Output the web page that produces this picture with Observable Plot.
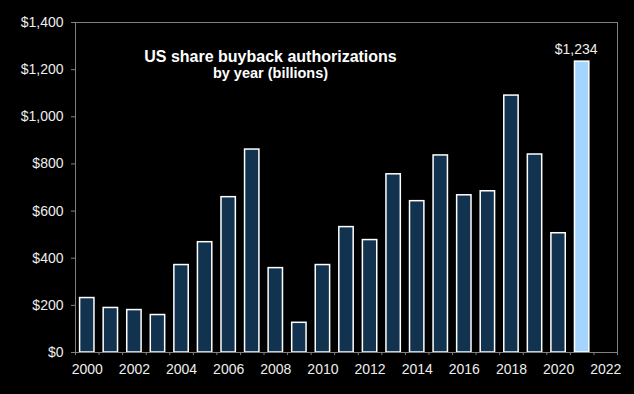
<!DOCTYPE html>
<html>
<head>
<meta charset="utf-8">
<script src="https://cdn.jsdelivr.net/npm/d3@7"></script>
<script src="https://cdn.jsdelivr.net/npm/@observablehq/plot@0.6"></script>
<style>
  html, body { margin: 0; padding: 0; background: #000; }
</style>
</head>
<body>
<div id="chart"></div>
<script>
const years = [2000, 2001, 2002, 2003, 2004, 2005, 2006, 2007, 2008, 2009, 2010,
               2011, 2012, 2013, 2014, 2015, 2016, 2017, 2018, 2019, 2020, 2021];
const values = [231, 189, 180, 159, 371, 468, 659, 861, 358, 126, 371,
                532, 477, 756, 642, 836, 667, 684, 1090, 840, 506, 1234];
const highlightYear = 2021;
const xLabelYears = [2000, 2002, 2004, 2006, 2008, 2010, 2012, 2014, 2016, 2018, 2020, 2022];
const xBoundaryYears = [2000, 2001, 2002, 2003, 2004, 2005, 2006, 2007, 2008, 2009, 2010, 2011,
                        2012, 2013, 2014, 2015, 2016, 2017, 2018, 2019, 2020, 2021, 2022, 2023];
const yTicks = [0, 200, 400, 600, 800, 1000, 1200, 1400];
const titleLines = ["US share buyback authorizations", "by year (billions)"];

const data = years.map((year, i) => ({year, value: values[i]}));
const money = d3.format("$,");
const font = "'Liberation Sans', Arial, sans-serif";
const gray = "#808080";
const textColor = "#eeeeee";

const chart = Plot.plot({
  width: 634,
  height: 394,
  marginLeft: 75,
  marginRight: 17,
  marginTop: 22,
  marginBottom: 42,
  style: {background: "#000", color: textColor, fontFamily: font, fontSize: "14px"},
  x: {type: "linear", domain: [2000, 2023], axis: null, label: null},
  y: {domain: [0, 1400], axis: null, label: null},
  marks: [
    Plot.rectY(data, {
      x1: "year",
      x2: d => d.year + 1,
      y: "value",
      fill: d => d.year === highlightYear ? "#a3d5ff" : "#12334f",
      stroke: "white",
      strokeWidth: 1.5,
      insetLeft: 4.6,
      insetRight: 4.6
    }),
    Plot.frame({stroke: gray}),
    Plot.axisY({ticks: yTicks, tickFormat: money, tickSize: 4, tickPadding: 8, stroke: gray, fill: textColor, fontSize: 14, label: null}),
    Plot.axisX({ticks: xBoundaryYears, tickFormat: () => "", tickSize: 3, stroke: gray, label: null}),
    Plot.axisX({ticks: xLabelYears, tickFormat: d => String(d), tickSize: 0, tickPadding: 12, dx: 11.8, fill: textColor, fontSize: 14, label: null}),
    Plot.text([titleLines[0]], {text: d => d, frameAnchor: "top", dx: -76, dy: 28, fontWeight: "bold", fontSize: 16, fill: "white"}),
    Plot.text([titleLines[1]], {text: d => d, frameAnchor: "top", dx: -76, dy: 45, fontWeight: "bold", fontSize: 14.5, fill: "white"}),
    Plot.text(data.filter(d => d.year === highlightYear), {
      x: d => d.year + 0.5,
      y: "value",
      text: d => money(d.value),
      lineAnchor: "bottom",
      dy: -8,
      dx: -6,
      fontSize: 14,
      fill: textColor
    })
  ]
});
document.getElementById("chart").appendChild(chart);
</script>
</body>
</html>
